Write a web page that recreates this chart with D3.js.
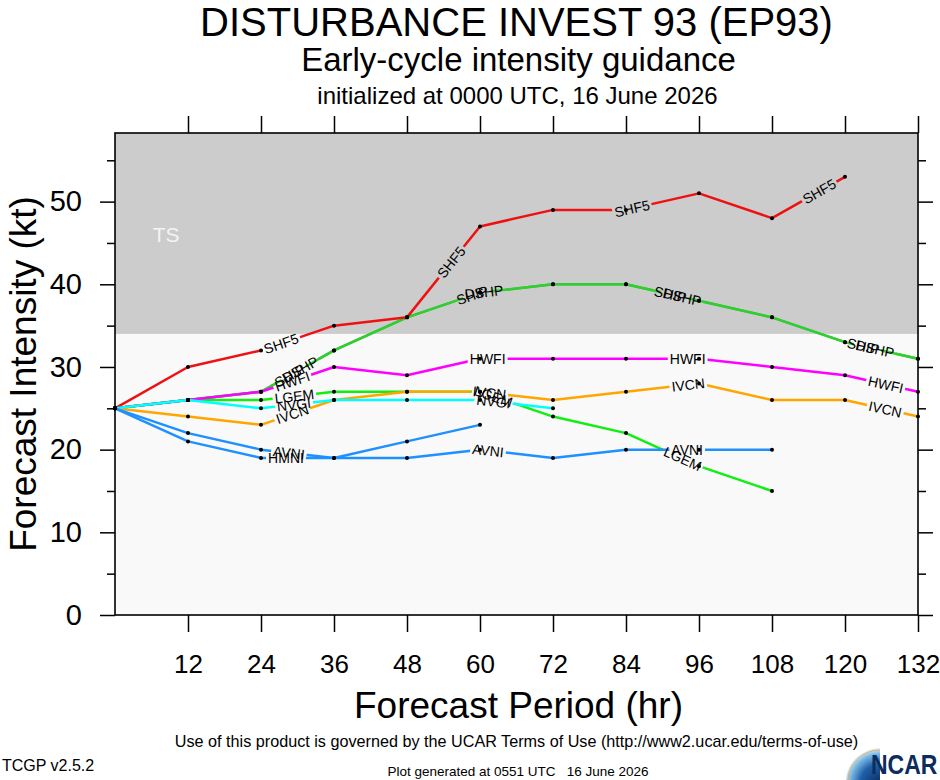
<!DOCTYPE html>
<html><head><meta charset="utf-8">
<script src="https://cdn.jsdelivr.net/npm/d3@7"></script>
<style>
body{margin:0;background:#fff;}
svg{display:block;font-family:"Liberation Sans",Arial,Helvetica,sans-serif;}
.pre{white-space:pre;}
</style>
</head><body>
<svg id="chart" width="940" height="780"></svg>
<script>
// ---------------- data ----------------
const hours = [0, 12, 24, 36, 48, 60, 72, 84, 96, 108, 120, 132];
const xTickValues = [12, 24, 36, 48, 60, 72, 84, 96, 108, 120, 132];
const yTickValues = [0, 10, 20, 30, 40, 50];
const yMinorTickValues = [5, 15, 25, 35, 45, 55];
const tsThreshold = 34;
const tsLabel = "TS";

const modelNames = ["SHIP", "DSHP", "LGEM", "HWFI", "SHF5", "IVCN", "NVGI", "AVNI", "HMNI"];
const SHIP = [25, 26, 27, 32, 36, 39, 40, 40, 38, 36, 33, 31];
const DSHP = [25, 26, 27, 32, 36, 39, 40, 40, 38, 36, 33, 31];
const LGEM = [25, 26, 26, 27, 27, 27, 24, 22, 18, 15];
const HWFI = [25, 26, 27, 30, 29, 31, 31, 31, 31, 30, 29, 27];
const SHF5 = [25, 30, 32, 35, 36, 47, 49, 49, 51, 48, 53];
const IVCN = [25, 24, 23, 26, 27, 27, 26, 27, 28, 26, 26, 24];
const NVGI = [25, 26, 25, 26, 26, 26, 25];
const AVNI = [25, 22, 20, 19, 19, 20, 19, 20, 20, 20];
const HMNI = [25, 21, 19, 19, 21, 23];
const modelValues = [SHIP, DSHP, LGEM, HWFI, SHF5, IVCN, NVGI, AVNI, HMNI];

const titleText = "DISTURBANCE INVEST 93 (EP93)";
const subtitleText = "Early-cycle intensity guidance";
const initText = "initialized at 0000 UTC, 16 June 2026";
const xTitle = "Forecast Period (hr)";
const yTitle = "Forecast Intensity (kt)";
const termsText = "Use of this product is governed by the UCAR Terms of Use (http://www2.ucar.edu/terms-of-use)";
const versionText = "TCGP v2.5.2";
const generatedText = "Plot generated at 0551 UTC   16 June 2026";
const logoText = "NCAR";

// ---------------- styles ----------------
const modelColors = {
  SHIP: "#33cc33", DSHP: "#33cc33", LGEM: "#11ee11", HWFI: "#ff00ff",
  SHF5: "#ee1111", IVCN: "#ffa500", NVGI: "#00ffff", AVNI: "#1e90ff", HMNI: "#1e90ff"
};
const labelShift = { DSHP: 12 };
const LABEL_START = 180, LABEL_SPACING = 200;

const W = 940, H = 780;
const M = { left: 115, right: 918, top: 133, bottom: 615 };
const x = d3.scaleLinear().domain([0, 132]).range([M.left, M.right]);
const y = d3.scaleLinear().domain([0, 58.3]).range([M.bottom, M.top]);

const svg = d3.select("#chart");
const defs = svg.append("defs");
svg.append("rect").attr("width", W).attr("height", H).attr("fill", "#ffffff");

// plot background and TS band
const yMax = y.domain()[1];
svg.append("rect").attr("x", x(0)).attr("y", y(yMax))
  .attr("width", x(132) - x(0)).attr("height", y(0) - y(yMax)).attr("fill", "#f9f9f9");
svg.append("rect").attr("x", x(0)).attr("y", y(yMax))
  .attr("width", x(132) - x(0)).attr("height", y(tsThreshold) - y(yMax)).attr("fill", "#cccccc");
svg.append("text").attr("x", x(8.4)).attr("y", y(45.1)).attr("text-anchor", "middle")
  .attr("font-size", 21).attr("fill", "#f4f4f4").text(tsLabel);

// ---------------- axes ----------------
function styleAxis(g) { g.select(".domain").remove(); g.selectAll(".tick line").attr("stroke", "#000").attr("stroke-width", 1.5); }

const gL = svg.append("g").attr("transform", `translate(${M.left},0)`)
  .call(d3.axisLeft(y).tickValues(yTickValues).tickSize(15).tickPadding(18).tickFormat(d3.format("d")));
styleAxis(gL);
gL.selectAll("text").attr("font-size", 29).attr("fill", "#000").attr("font-family", null);
const gLm = svg.append("g").attr("transform", `translate(${M.left},0)`)
  .call(d3.axisLeft(y).tickValues(yMinorTickValues).tickSize(8).tickFormat(""));
styleAxis(gLm);

const gR = svg.append("g").attr("transform", `translate(${M.right},0)`)
  .call(d3.axisRight(y).tickValues(yTickValues).tickSize(15).tickFormat(""));
styleAxis(gR);
const gRm = svg.append("g").attr("transform", `translate(${M.right},0)`)
  .call(d3.axisRight(y).tickValues(yMinorTickValues).tickSize(8).tickFormat(""));
styleAxis(gRm);

const gB = svg.append("g").attr("transform", `translate(0,${M.bottom})`)
  .call(d3.axisBottom(x).tickValues(xTickValues).tickSize(17).tickPadding(23));
styleAxis(gB);
gB.selectAll("text").attr("font-size", 26).attr("fill", "#000").attr("font-family", null);

const gT = svg.append("g").attr("transform", `translate(0,${M.top})`)
  .call(d3.axisTop(x).tickValues(xTickValues).tickSize(17).tickFormat(""));
styleAxis(gT);

// frame
svg.append("rect").attr("x", x(0)).attr("y", y(yMax))
  .attr("width", x(132) - x(0)).attr("height", y(0) - y(yMax))
  .attr("fill", "none").attr("stroke", "#000").attr("stroke-width", 1.6);

// ---------------- model lines ----------------
const lineGroup = svg.append("g");
const labelGroup = svg.append("g");
const dotGroup = svg.append("g");
const line = d3.line();

modelNames.forEach((name, i) => {
  const vals = modelValues[i];
  const pts = vals.map((v, j) => [x(hours[j]), y(v)]);
  const cum = [0];
  for (let j = 1; j < pts.length; j++) cum.push(cum[j - 1] + Math.hypot(pts[j][0] - pts[j - 1][0], pts[j][1] - pts[j - 1][1]));
  const total = cum[cum.length - 1];

  const maskId = "mask-" + name;
  const mask = defs.append("mask").attr("id", maskId).attr("maskUnits", "userSpaceOnUse")
    .attr("x", 0).attr("y", 0).attr("width", W).attr("height", H);
  mask.append("rect").attr("width", W).attr("height", H).attr("fill", "#fff");

  const shift = labelShift[name] || 0;
  for (let L = LABEL_START + shift; L + 18 <= total; L += LABEL_SPACING) {
    let j = 0;
    while (j < cum.length - 2 && cum[j + 1] < L) j++;
    const t = (L - cum[j]) / (cum[j + 1] - cum[j]);
    const px = pts[j][0] + t * (pts[j + 1][0] - pts[j][0]);
    const py = pts[j][1] + t * (pts[j + 1][1] - pts[j][1]);
    const ang = Math.atan2(pts[j + 1][1] - pts[j][1], pts[j + 1][0] - pts[j][0]) * 180 / Math.PI;
    const txt = labelGroup.append("text")
      .attr("transform", `translate(${px},${py}) rotate(${ang})`)
      .attr("text-anchor", "middle").attr("dy", "0.36em")
      .attr("font-size", 14).attr("fill", "#000").text(name);
    const tw = txt.node().getComputedTextLength();
    mask.append("rect").attr("x", -tw / 2 - 2).attr("y", -6.5).attr("width", tw + 4).attr("height", 13)
      .attr("transform", `translate(${px},${py}) rotate(${ang})`).attr("fill", "#000");
  }

  lineGroup.append("path").attr("d", line(pts)).attr("fill", "none")
    .attr("stroke", modelColors[name]).attr("stroke-width", 2.5)
    .attr("stroke-linejoin", "round").attr("mask", `url(#${maskId})`);

  dotGroup.selectAll(null).data(pts).enter().append("circle")
    .attr("cx", d => d[0]).attr("cy", d => d[1]).attr("r", 2).attr("fill", "#000");
});

// ---------------- titles ----------------
const cx = (M.left + M.right) / 2;
svg.append("text").attr("x", cx).attr("y", 36).attr("text-anchor", "middle").attr("font-size", 40).text(titleText);
svg.append("text").attr("x", cx + 2).attr("y", 71).attr("text-anchor", "middle").attr("font-size", 33).text(subtitleText);
svg.append("text").attr("x", cx + 1).attr("y", 104).attr("text-anchor", "middle").attr("font-size", 24).text(initText);
svg.append("text").attr("x", cx + 2).attr("y", 718).attr("text-anchor", "middle").attr("font-size", 37).text(xTitle);
svg.append("text").attr("transform", `translate(36,${(M.top + M.bottom) / 2}) rotate(-90)`)
  .attr("text-anchor", "middle").attr("font-size", 37).text(yTitle);
svg.append("text").attr("x", cx).attr("y", 747).attr("text-anchor", "middle").attr("font-size", 16.2).text(termsText);
svg.append("text").attr("x", 2).attr("y", 771).attr("font-size", 16).text(versionText);
svg.append("text").attr("class", "pre").attr("x", 518).attr("y", 776).attr("text-anchor", "middle")
  .attr("font-size", 13.5).text(generatedText);

// ---------------- NCAR logo ----------------
const grad = defs.append("radialGradient").attr("id", "ncarGrad").attr("gradientUnits", "userSpaceOnUse")
  .attr("cx", 880).attr("cy", 784).attr("r", 36);
grad.append("stop").attr("offset", "0%").attr("stop-color", "#0a2a5e");
grad.append("stop").attr("offset", "55%").attr("stop-color", "#1f5fa8");
grad.append("stop").attr("offset", "85%").attr("stop-color", "#7fbde8");
grad.append("stop").attr("offset", "100%").attr("stop-color", "#e8f4fb");
svg.append("path").attr("d", "M846,780 A34,34 0 0 1 880,748 L880,780 Z").attr("fill", "url(#ncarGrad)");
svg.append("path").attr("d", "M848,780 A32,32 0 0 1 880,750").attr("fill", "none").attr("stroke", "#f2a23a").attr("stroke-width", 0.8);
svg.append("text").attr("transform", "translate(871,774) scale(1,1.2)").attr("font-size", 23).attr("font-weight", "bold")
  .attr("fill", "#0d2c5c").text(logoText);
</script>
</body></html>
